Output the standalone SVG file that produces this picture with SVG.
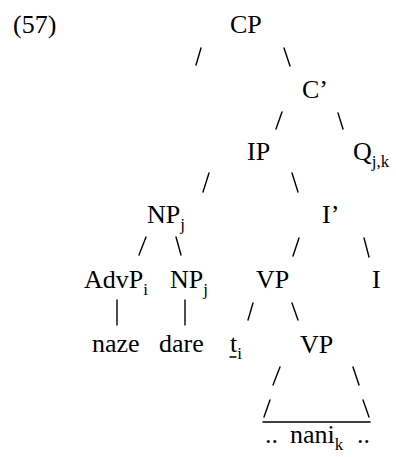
<svg xmlns="http://www.w3.org/2000/svg" width="396" height="457" viewBox="0 0 396 457">
<style>
.s{font-size:17px}
line{stroke:#000;stroke-width:1.4;stroke-linecap:round}
</style>
<rect width="396" height="457" fill="#fff"/>
<g id="label"><text x="13" y="33" font-family="Liberation Serif" font-size="26">(57)</text></g>
<g id="CP"><text x="230" y="33" font-family="Liberation Serif" font-size="26">CP</text></g>
<g id="Cbar"><text x="302" y="98" font-family="Liberation Serif" font-size="26">C’</text></g>
<g id="IP"><text x="247" y="160" font-family="Liberation Serif" font-size="26">IP</text></g>
<g id="Q"><text x="353" y="160" font-family="Liberation Serif" font-size="26">Q<tspan class="s" dy="7">j,k</tspan></text></g>
<g id="NPj1"><text x="147" y="223" font-family="Liberation Serif" font-size="26">NP<tspan class="s" dy="7">j</tspan></text></g>
<g id="Ibar"><text x="322" y="223" font-family="Liberation Serif" font-size="26">I’</text></g>
<g id="AdvP"><text x="84" y="288" font-family="Liberation Serif" font-size="26">AdvP<tspan class="s" dy="7">i</tspan></text></g>
<g id="NPj2"><text x="170" y="288" font-family="Liberation Serif" font-size="26">NP<tspan class="s" dy="7">j</tspan></text></g>
<g id="VP1"><text x="256" y="288" font-family="Liberation Serif" font-size="26">VP</text></g>
<g id="I"><text x="372" y="288" font-family="Liberation Serif" font-size="26">I</text></g>
<g id="naze"><text x="92" y="352" font-family="Liberation Serif" font-size="26">naze</text></g>
<g id="dare"><text x="159" y="352" font-family="Liberation Serif" font-size="26">dare</text></g>
<g id="ti"><text x="230" y="352" font-family="Liberation Serif" font-size="26">t<tspan class="s" dy="7">i</tspan></text><line x1="230" y1="357" x2="236" y2="357"/></g>
<g id="VP2"><text x="300" y="353" font-family="Liberation Serif" font-size="26">VP</text></g>
<g id="nani"><text x="265" y="443" font-family="Liberation Serif" font-size="26">..<tspan x="290">nani</tspan><tspan class="s" dy="7">k</tspan><tspan x="357" dy="-7">..</tspan></text></g>
<g id="connectors">
<line x1="196" y1="65" x2="201" y2="48"/>
<line x1="284" y1="48" x2="290" y2="66"/>
<line x1="276" y1="129" x2="282" y2="112"/>
<line x1="338" y1="113" x2="343" y2="129"/>
<line x1="203" y1="192" x2="209" y2="173"/>
<line x1="292" y1="173" x2="298" y2="192"/>
<line x1="139" y1="255" x2="146" y2="237"/>
<line x1="176" y1="237" x2="181" y2="255"/>
<line x1="293" y1="256" x2="299" y2="238"/>
<line x1="364" y1="238" x2="369" y2="257"/>
<line x1="117" y1="300" x2="117" y2="325"/>
<line x1="185" y1="300" x2="185" y2="325"/>
<line x1="248" y1="320" x2="253" y2="303"/>
<line x1="292" y1="303" x2="298" y2="320"/>
<line x1="273" y1="385" x2="280" y2="367"/>
<line x1="353" y1="367" x2="359" y2="385"/>
<line x1="264" y1="417" x2="270" y2="400"/>
<line x1="363" y1="400" x2="369" y2="417"/>
<line x1="263" y1="422" x2="370" y2="422" style="stroke-width:1.6"/>
</g>
</svg>
